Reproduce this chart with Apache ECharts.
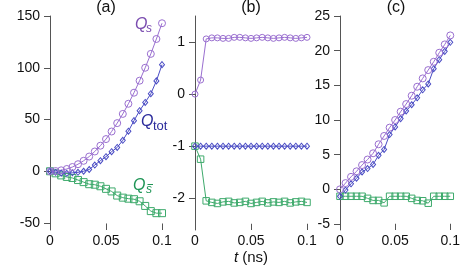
<!DOCTYPE html>
<html>
<head>
<meta charset="utf-8">
<script src="https://cdn.jsdelivr.net/npm/echarts@6/dist/echarts.min.js"></script>
<style>
html,body{margin:0;padding:0;background:#fff;}
#c{width:463px;height:273px;}
</style>
</head>
<body>
<div id="c"></div>
<script>
// time axis (ns)
const tVals = [0,0.005,0.01,0.015,0.02,0.025,0.03,0.035,0.04,0.045,0.05,0.055,0.06,0.065,0.07,0.075,0.08,0.085,0.09,0.095,0.1];

// panel (a)
const aQs   = [0,0.2,0.9,2.2,4.1,6.8,10.1,14.2,19.1,24.7,31.1,38.4,46.5,55.4,65.2,75.9,87.5,100,113.4,127.8,143];
const aQsb  = [0,-2,-4,-5.5,-6.5,-8.5,-10.5,-12.5,-13,-14.5,-17,-19.5,-23.5,-25.5,-26.5,-27,-29,-33.5,-38.5,-40.5,-40.5];
const aQtot = [0,-1,-1.8,-2,-1.5,-1,0,1.7,6,10.2,14.1,18.9,23,29.9,38.7,48.9,58.5,66.5,74.9,87.3,103];

// panel (b)
const bQs   = [0,0.27,1.06,1.08,1.08,1.07,1.07,1.09,1.09,1.08,1.07,1.08,1.09,1.08,1.07,1.08,1.09,1.08,1.07,1.08,1.09];
const bQsb  = [-1,-1.25,-2.05,-2.08,-2.1,-2.07,-2.06,-2.09,-2.08,-2.06,-2.1,-2.08,-2.06,-2.09,-2.07,-2.08,-2.06,-2.09,-2.07,-2.06,-2.08];
const bQtot = [-1,-1,-1,-1,-1,-1,-1,-1,-1,-1,-1,-1,-1,-1,-1,-1,-1,-1,-1,-1,-1];

// panel (c)
const cQs   = [0,0.9,1.8,2.6,3.5,4.3,5.2,6.5,7.7,8.9,10.0,11.2,12.3,13.5,14.8,16.0,17.2,18.4,19.7,20.9,22.2];
const cQsb  = [-1,-1,-1,-1,-1,-1.3,-1.6,-1.6,-1.95,-1,-1,-1,-1,-1.3,-1.6,-1.65,-2,-1,-1,-1,-1];
const cQtot = [-1,-0.1,0.8,1.6,2.5,3.0,3.6,4.9,5.75,7.9,9.0,10.2,11.3,12.2,13.2,14.35,15.2,17.4,18.7,19.9,21.2];

// tick labels
const xTickStep = 0.05;
const xTicks = [0,0.05,0.1];
const aYTicks = [-50,0,50,100,150];
const bYTicks = [-2,-1,0,1];
const cYTicks = [-5,0,5,10,15,20,25];
const panelTitles = ['(a)','(b)','(c)'];

const FONT = 'Liberation Sans, Arial, Helvetica, sans-serif';
const PURPLE = '#9a6fd0', BLUE = '#4a4cc4', GREEN = '#3eaa6c';
const PURPLE_T = '#7b4db0', BLUE_T = '#2c2c9c', GREEN_T = '#1f9556';
const AXIS_C = '#555';

const pair = arr => tVals.map((t,i)=>[t, arr[i]]);

const grids = [
  {left:50, width:112, top:16, height:214},
  {left:195, width:112, top:16, height:214},
  {left:340, width:112, top:16, height:214}
];

// [min, max, ticks, tick height in data units (about 6 px)]
const yRanges = [[-56.76,150,aYTicks,6.3],[-2.61,1.5,bYTicks,0.12],[-5.865,25,cYTicks,0.9]];

const xAxes = [0,1,2].map(i=>({
  type:'value', gridIndex:i, min:0, max:0.1, interval:xTickStep,
  axisLine:{show:false, onZero:false},
  axisTick:{show:true, inside:true, length:6, lineStyle:{color:AXIS_C, width:1}},
  axisLabel:{margin:4, fontSize:14, color:'#111', fontFamily:FONT,
    formatter:v=>String(+v.toFixed(3))},
  splitLine:{show:true, lineStyle:{color:'rgba(0,0,0,0)'}}
}));

const yAxes = yRanges.map((r,i)=>({
  type:'value', gridIndex:i, min:r[0], max:r[1],
  axisLine:{show:true, onZero:false, lineStyle:{color:AXIS_C, width:1}},
  axisTick:{show:true, inside:false, length:6, lineStyle:{color:AXIS_C, width:1}, customValues:r[2]},
  axisLabel:{margin:10, fontSize:14, color:'#111', fontFamily:FONT, customValues:r[2],
    formatter:v=>String(v)},
  splitLine:{show:false}
}));

function ser(idx, data, color, symbol, size, withTicks){
  const s = {
    type:'line', xAxisIndex:idx, yAxisIndex:idx, data:pair(data),
    symbol:symbol, symbolSize:size, showAllSymbol:true, clip:false, animation:false,
    lineStyle:{color:color, width:1},
    itemStyle:{color:'rgba(0,0,0,0)', borderColor:color, borderWidth:1},
    emphasis:{disabled:true}
  };
  if (withTicks) {
    const r = yRanges[idx];
    s.markLine = {
      silent:true, symbol:['none','none'], animation:false,
      label:{show:false},
      lineStyle:{color:AXIS_C, width:1, type:'solid'},
      emphasis:{disabled:true},
      data: xTicks.map(x=>[{coord:[x, r[0]]},{coord:[x, r[0]+r[3]]}])
    };
  }
  return s;
}

const series = [
  ser(0, aQsb, GREEN, 'rect', 7, true),
  ser(0, aQtot, BLUE, 'diamond', [5,6]),
  ser(0, aQs, PURPLE, 'circle', 7),
  ser(1, bQsb, GREEN, 'rect', 6.5, true),
  ser(1, bQtot, BLUE, 'diamond', [5,6]),
  ser(1, bQs, PURPLE, 'circle', 6),
  ser(2, cQsb, GREEN, 'rect', 6.5, true),
  ser(2, cQtot, BLUE, 'diamond', [5,6]),
  ser(2, cQs, PURPLE, 'circle', 7)
];

function txt(x,y,text,opts){
  return {type:'text', x:x, y:y, silent:true, style:Object.assign({
    text:text, fill:'#111', font:'14px '+FONT, align:'center', verticalAlign:'middle'}, opts||{})};
}

const graphic = [
  txt(106,8,panelTitles[0],{font:'16px '+FONT}),
  txt(251,8,panelTitles[1],{font:'16px '+FONT}),
  txt(396,8,panelTitles[2],{font:'16px '+FONT}),
  // y axis name
  Object.assign(txt(10,119,'Q',{font:'italic 15px '+FONT}), {rotation:Math.PI/2, originX:10, originY:119}),
  // x axis name
  {type:'text', x:251, y:258, silent:true, style:{text:'{i|t} (ns)', align:'center', verticalAlign:'middle',
    fill:'#111', font:'15px '+FONT, rich:{i:{fontStyle:'italic', fontSize:15, fontFamily:FONT, fill:'#111'}}}},
  // series labels
  txt(135,25,'Q',{font:'italic 16px '+FONT, fill:PURPLE_T, align:'left'}),
  txt(146,29,'s',{font:'italic 12px '+FONT, fill:PURPLE_T, align:'left'}),
  txt(141,122,'Q',{font:'italic 16px '+FONT, fill:BLUE_T, align:'left'}),
  txt(153,126,'tot',{font:'13px '+FONT, fill:BLUE_T, align:'left'}),
  txt(133,186,'Q',{font:'italic 16px '+FONT, fill:GREEN_T, align:'left'}),
  txt(146,190,'s',{font:'italic 12px '+FONT, fill:GREEN_T, align:'left'}),
  {type:'line', silent:true, shape:{x1:147.5, y1:184.5, x2:153, y2:184.5}, style:{stroke:GREEN_T, lineWidth:1}}
];

const chart = echarts.init(document.getElementById('c'));
chart.setOption({
  animation:false,
  backgroundColor:'#fff',
  grid:grids, xAxis:xAxes, yAxis:yAxes, series:series, graphic:graphic
});
</script>
</body>
</html>
